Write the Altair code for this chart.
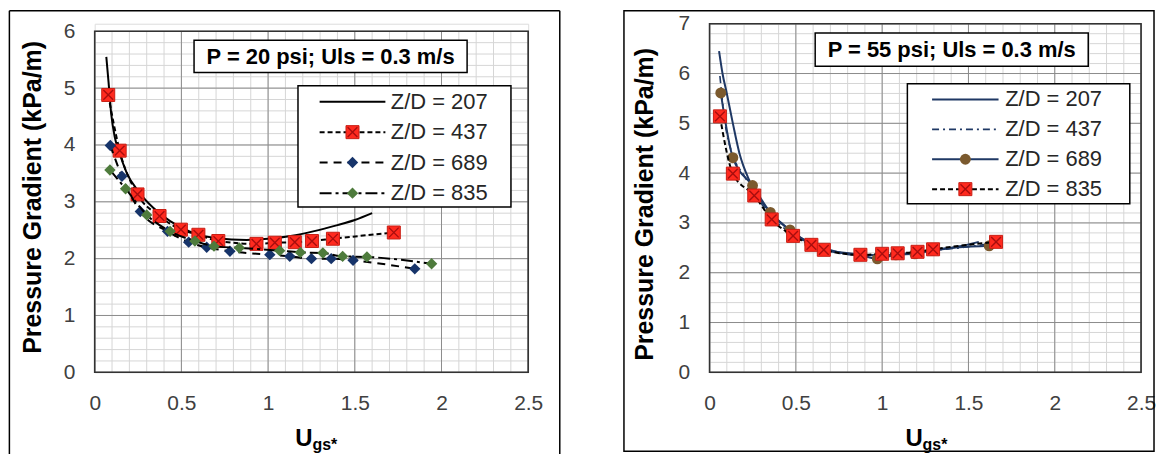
import altair as alt
import pandas as pd

FONT = "Liberation Sans"
TICK_X = [0, 0.5, 1, 1.5, 2, 2.5]
TICK_Y_L = [0, 1, 2, 3, 4, 5, 6]
TICK_Y_R = [0, 1, 2, 3, 4, 5, 6, 7]
LEGEND_LABELS = ["Z/D = 207", "Z/D = 437", "Z/D = 689", "Z/D = 835"]
TITLE_L = "P = 20 psi; Uls = 0.3 m/s"
TITLE_R = "P = 55 psi; Uls = 0.3 m/s"
Y_TITLE = "Pressure Gradient (kPa/m)"

# ---- Left panel: P = 20 psi ----
L207_x = [0.067, 0.08, 0.095, 0.115, 0.14, 0.186, 0.253, 0.339, 0.435, 0.57, 0.70, 0.876, 1.0, 1.13, 1.26, 1.4, 1.5, 1.6]
L207_y = [5.55, 5.1, 4.55, 4.15, 3.89, 3.5, 3.18, 2.89, 2.66, 2.45, 2.36, 2.33, 2.35, 2.4, 2.48, 2.59, 2.68, 2.8]
L437_x = [0.078, 0.144, 0.247, 0.374, 0.497, 0.598, 0.713, 0.933, 1.039, 1.154, 1.253, 1.374, 1.725]
L437_y = [4.88, 3.90, 3.13, 2.75, 2.51, 2.42, 2.31, 2.26, 2.28, 2.29, 2.31, 2.35, 2.46]
L689_x = [0.09, 0.157, 0.263, 0.42, 0.542, 0.646, 0.78, 1.01, 1.125, 1.25, 1.364, 1.49, 1.846]
L689_y = [3.99, 3.45, 2.83, 2.48, 2.29, 2.20, 2.13, 2.07, 2.04, 2.0, 2.0, 1.97, 1.82]
L835_x = [0.088, 0.178, 0.30, 0.435, 0.578, 0.688, 0.834, 1.067, 1.186, 1.316, 1.43, 1.57, 1.943]
L835_y = [3.56, 3.23, 2.77, 2.48, 2.31, 2.22, 2.19, 2.14, 2.11, 2.10, 2.04, 2.03, 1.91]

# ---- Right panel: P = 55 psi ----
R207_x = [0.055, 0.075, 0.1, 0.135, 0.173, 0.231, 0.308, 0.404, 0.52, 0.674, 0.848, 1.0, 1.15, 1.3, 1.45, 1.56]
R207_y = [6.45, 6.0, 5.6, 5.0, 4.4, 3.85, 3.4, 3.03, 2.72, 2.48, 2.36, 2.35, 2.39, 2.45, 2.53, 2.62]
R437_x = [0.06, 0.09, 0.13, 0.2, 0.26, 0.36, 0.48, 0.6, 0.7, 0.88, 1.0, 1.1, 1.2, 1.3, 1.45, 1.6]
R437_y = [5.95, 5.0, 4.4, 3.95, 3.6, 3.12, 2.78, 2.55, 2.43, 2.35, 2.34, 2.37, 2.41, 2.45, 2.5, 2.57]
R689_x = [0.065, 0.135, 0.249, 0.352, 0.466, 0.58, 0.655, 0.87, 0.972, 1.08, 1.19, 1.29, 1.62]
R689_y = [5.61, 4.31, 3.75, 3.21, 2.86, 2.58, 2.47, 2.36, 2.28, 2.36, 2.38, 2.45, 2.54]
R835_x = [0.06, 0.135, 0.259, 0.36, 0.484, 0.59, 0.662, 0.874, 1.0, 1.09, 1.205, 1.295, 1.66]
R835_y = [5.14, 3.99, 3.55, 3.07, 2.74, 2.56, 2.46, 2.36, 2.38, 2.39, 2.42, 2.47, 2.62]

NAVY = "#1f3864"
BLUE = "#17346a"
RED = "#ff2a1f"
RED_EDGE = "#c81e14"
REDX = "#a80e0e"
GREEN = "#4e7b3c"
BROWN = "#7b5a2e"
MINOR = "#d6d6d6"
MAJOR = "#8c8c8c"
FRAME = "#333333"
XPATH = "M-0.75,-0.75L0.75,0.75M0.75,-0.75L-0.75,0.75"

one = alt.Data(values=[{}])


class Panel:
    def __init__(self, ymax, yticks, width, height, top):
        self.ymax = ymax
        self.yticks = yticks
        self.w = width
        self.h = height
        self.top = top

    def X(self, f):
        return alt.X(f"{f}:Q", scale=alt.Scale(domain=[0, 2.5], nice=False, zero=False),
                     axis=alt.Axis(values=TICK_X, format="~g", grid=False, domain=False, ticks=False,
                                   tickSize=0, labelPadding=20, labelFont=FONT, labelFontSize=21,
                                   labelColor="#404040", labelFlush=False, labelOverlap=False, title=None))

    def Y(self, f):
        return alt.Y(f"{f}:Q", scale=alt.Scale(domain=[0, self.ymax], range=[self.h, self.top],
                                               nice=False, zero=False),
                     axis=alt.Axis(values=self.yticks, format="d", grid=False, domain=False, ticks=False,
                                   tickSize=0, labelPadding=20, labelFont=FONT, labelFontSize=21,
                                   labelColor="#404040", labelOverlap=False, title=None))


def vgrid(P, step, color):
    return alt.Chart(alt.sequence(0, 2.5 + step / 2, step, as_="v")).mark_rule(
        color=color, strokeWidth=1).encode(x=P.X("v"), y=alt.value(P.top), y2=alt.value(P.h))


def hgrid(P, step, color):
    return alt.Chart(alt.sequence(0, P.ymax + step / 2, step, as_="v")).mark_rule(
        color=color, strokeWidth=1).encode(y=P.Y("v"), x=alt.value(0), x2=alt.value(P.w))


def frame(P):
    return alt.Chart(one).mark_rect(fill="#ffffff", fillOpacity=0, stroke=FRAME, strokeWidth=1.6).encode(
        x=alt.value(0), x2=alt.value(P.w), y=alt.value(P.top), y2=alt.value(P.h))


def line(P, xs, ys, color, width=2, dash=None):
    kw = dict(color=color, strokeWidth=width, interpolate="monotone")
    if dash:
        kw["strokeDash"] = dash
    return alt.Chart(pd.DataFrame({"x": xs, "y": ys})).mark_line(**kw).encode(x=P.X("x"), y=P.Y("y"))


def pts(P, xs, ys, shape, size, fill, stroke=None):
    kw = dict(shape=shape, size=size, filled=True, fill=fill, opacity=1)
    if stroke:
        kw.update(stroke=stroke, strokeWidth=1)
    return alt.Chart(pd.DataFrame({"x": xs, "y": ys})).mark_point(**kw).encode(x=P.X("x"), y=P.Y("y"))


def squares_x(P, xs, ys):
    df = pd.DataFrame({"x": xs, "y": ys})
    a = alt.Chart(df).mark_point(shape="square", size=170, filled=True, fill=RED, stroke=RED_EDGE,
                                 strokeWidth=1, opacity=1).encode(x=P.X("x"), y=P.Y("y"))
    b = alt.Chart(df).mark_point(shape=XPATH, size=170, filled=False, color=REDX, strokeWidth=1.4,
                                 opacity=1).encode(x=P.X("x"), y=P.Y("y"))
    return [a, b]


# ---- pixel decorations ----
def text(t, x, y, size, weight="normal", align="left", baseline="middle", angle=None, color="#000000"):
    kw = dict(text=t, font=FONT, fontSize=size, fontWeight=weight, align=align, baseline=baseline, color=color)
    if angle is not None:
        kw["angle"] = angle
    return alt.Chart(one).mark_text(**kw).encode(x=alt.value(x), y=alt.value(y))


def hrule(x1, x2, y, color="#000000", width=1.5, dash=None):
    kw = dict(color=color, strokeWidth=width)
    if dash:
        kw["strokeDash"] = dash
    return alt.Chart(one).mark_rule(**kw).encode(x=alt.value(x1), x2=alt.value(x2), y=alt.value(y))


def vrule(x, y1, y2, color="#000000", width=1.5):
    return alt.Chart(one).mark_rule(color=color, strokeWidth=width).encode(
        x=alt.value(x), y=alt.value(y1), y2=alt.value(y2))


def box(x1, x2, y1, y2, fill_opacity=1.0, width=1.5):
    return alt.Chart(one).mark_rect(fill="#ffffff", fillOpacity=fill_opacity, stroke="#000000",
                                    strokeWidth=width).encode(
        x=alt.value(x1), x2=alt.value(x2), y=alt.value(y1), y2=alt.value(y2))


def mpt(x, y, shape, size, fill, stroke=None):
    kw = dict(shape=shape, size=size, filled=True, fill=fill, opacity=1)
    if stroke:
        kw.update(stroke=stroke, strokeWidth=1)
    return alt.Chart(one).mark_point(**kw).encode(x=alt.value(x), y=alt.value(y))


def msq(x, y):
    return [mpt(x, y, "square", 170, RED, RED_EDGE),
            alt.Chart(one).mark_point(shape=XPATH, size=170, filled=False, color=REDX, strokeWidth=1.4,
                                      opacity=1).encode(x=alt.value(x), y=alt.value(y))]


# ================= LEFT PANEL =================
# view spans page y 21.7..371.5; the plotted area starts 7.6 px lower
WL, HL, TL = 435, 349.8, 7.6
PL = Panel(6, TICK_Y_L, WL, HL, TL)
left_layers = [
    vrule(-85.6, -13, 434), hrule(-85.6, WL + 31.7, -13), vrule(WL + 31.7, -13, 434),
    vgrid(PL, 0.1, MINOR), hgrid(PL, 0.2, MINOR), vgrid(PL, 0.5, MAJOR), hgrid(PL, 1, MAJOR),
    frame(PL),
    line(PL, L207_x, L207_y, "#000000", 2),
    line(PL, L437_x, L437_y, "#000000", 2, [5, 3]),
    *squares_x(PL, L437_x, L437_y),
    line(PL, L689_x, L689_y, "#000000", 2, [8, 6]),
    pts(PL, L689_x, L689_y, "diamond", 130, BLUE),
    line(PL, L835_x, L835_y, "#000000", 2, [12, 4, 3, 4]),
    pts(PL, L835_x, L835_y, "diamond", 130, GREEN),
    box(99.7, 373.7, 16.6, 49.0),
    text(TITLE_L, 236.7, 33.2, 22, "bold", align="center"),
    box(204, 417.7, 62.3, 183.8),
    hrule(225.7, 291.7, 78.3, "#000000", 2),
    hrule(225.7, 291.7, 108.8, "#000000", 2, [5, 3]), *msq(258.7, 108.8),
    hrule(225.7, 291.7, 139.3, "#000000", 2, [8, 6]), mpt(258.7, 139.3, "diamond", 130, BLUE),
    hrule(225.7, 291.7, 170, "#000000", 2, [12, 4, 3, 4]), mpt(258.7, 170, "diamond", 130, GREEN),
    text(LEGEND_LABELS[0], 297.2, 78.3, 22, color="#262626"),
    text(LEGEND_LABELS[1], 297.2, 108.8, 22, color="#262626"),
    text(LEGEND_LABELS[2], 297.2, 139.3, 22, color="#262626"),
    text(LEGEND_LABELS[3], 297.2, 170, 22, color="#262626"),
    text(Y_TITLE, -61.8, 174.3, 25, "bold", align="center", angle=270),
    text("U", 201.2, 423.3, 24, "bold", baseline="alphabetic"),
    text("gs*", 218.5, 427.3, 16, "bold", baseline="alphabetic"),
]
left = alt.layer(*left_layers).properties(width=WL, height=HL)

# ================= RIGHT PANEL =================
WR, HR, TR = 433, 349.8, 0
PR = Panel(7, TICK_Y_R, WR, HR, TR)
right_layers = [
    box(-85.9, WR + 13, -13, 429, fill_opacity=0.0),
    vgrid(PR, 0.1, MINOR), hgrid(PR, 0.2, MINOR), vgrid(PR, 0.5, MAJOR), hgrid(PR, 1, MAJOR),
    frame(PR),
    line(PR, R207_x, R207_y, NAVY, 2),
    line(PR, R437_x, R437_y, NAVY, 1.6, [7, 4, 2, 4]),
    line(PR, R689_x, R689_y, NAVY, 2),
    pts(PR, R689_x, R689_y, "circle", 120, BROWN),
    line(PR, R835_x, R835_y, "#000000", 2, [5, 3]),
    *squares_x(PR, R835_x, R835_y),
    box(106, 380, 9.3, 42.6),
    text(TITLE_R, 243, 26.4, 22, "bold", align="center"),
    box(198.5, 421.7, 60.2, 180.7),
    hrule(223.3, 290, 76, NAVY, 2),
    hrule(223.3, 290, 106, NAVY, 1.6, [7, 4, 2, 4]),
    hrule(223.3, 290, 136, NAVY, 2), mpt(256.7, 136, "circle", 120, BROWN),
    hrule(223.3, 290, 166, "#000000", 2, [5, 3]), *msq(256.7, 166),
    text(LEGEND_LABELS[0], 296.7, 76, 22, color="#262626"),
    text(LEGEND_LABELS[1], 296.7, 106, 22, color="#262626"),
    text(LEGEND_LABELS[2], 296.7, 136, 22, color="#262626"),
    text(LEGEND_LABELS[3], 296.7, 166, 22, color="#262626"),
    text(Y_TITLE, -65, 181.3, 25, "bold", align="center", angle=270),
    text("U", 196.5, 423.3, 24, "bold", baseline="alphabetic"),
    text("gs*", 213.8, 427.3, 16, "bold", baseline="alphabetic"),
]
right = alt.layer(*right_layers).properties(width=WR, height=HR)

chart = alt.hconcat(left, right, spacing=61).properties(padding=0).configure_view(
    stroke="transparent", strokeWidth=0).configure(font=FONT)

chart.save("out.html", embed_options={"renderer": "svg", "actions": False})
